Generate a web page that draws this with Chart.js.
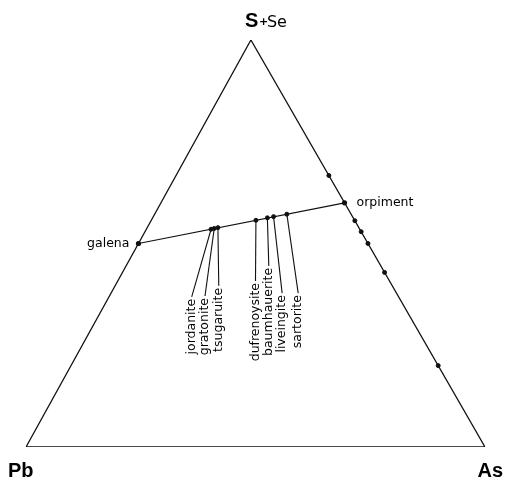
<!DOCTYPE html>
<html>
<head>
<meta charset="utf-8">
<script src="https://cdn.jsdelivr.net/npm/chart.js@4"></script>
<style>
  html, body { margin: 0; padding: 0; background: #fff; }
  #wrap { width: 506px; height: 478px; position: relative; }
</style>
</head>
<body>
<div id="wrap"><canvas id="ternary"></canvas></div>
<script>
// compositions as atomic fractions [Pb, As, S(+Se)]
const joinMinerals = ["jordanite", "gratonite", "tsugaruite", "dufrenoysite", "baumhauerite", "liveingite", "sartorite"]
const joinPb = [0.324, 0.316, 0.307, 0.215, 0.187, 0.172, 0.140]
const joinAs = [0.141, 0.147, 0.154, 0.228, 0.250, 0.262, 0.288]
const joinS  = [0.535, 0.537, 0.539, 0.557, 0.563, 0.566, 0.572]

const endMembers = ["galena", "orpiment"]
const endPb = [0.5, 0.0]
const endAs = [0.0, 0.4]
const endS  = [0.5, 0.6]

// As - S binary phases on the right edge
const binaryS = [0.667, 0.556, 0.529, 0.500, 0.429, 0.200]

const vertexNames = ["Pb", "As", "S"]

// label columns (in the same x/y units as the chart, label end = top of the text)
const labelX   = [0.361, 0.390, 0.420, 0.500, 0.529, 0.558, 0.593]
const labelTop = [0.369, 0.371, 0.396, 0.408, 0.445, 0.378, 0.378]

// the drawn triangle is not quite equilateral: the apex sits a little left of centre
const APEX_X = 0.49

// ternary -> cartesian: Pb at (0,0), As at (1,0), S at (APEX_X,1)
function tern(pb, as, s) {
  const t = pb + as + s
  return { x: (as + s * APEX_X) / t, y: s / t }
}

const outline = [tern(1, 0, 0), tern(0, 1, 0), tern(0, 0, 1), tern(1, 0, 0)]
const joinLine = endPb.map((p, i) => tern(p, endAs[i], endS[i]))
const joinPts = joinMinerals.map((m, i) => tern(joinPb[i], joinAs[i], joinS[i]))
const binaryPts = binaryS.map(s => tern(0, 1 - s, s))

const labelPlugin = {
  id: "ternaryLabels",
  afterDatasetsDraw(chart) {
    const { ctx, scales: { x, y } } = chart
    ctx.save()
    ctx.fillStyle = "#000"
    ctx.strokeStyle = "#111"
    ctx.lineWidth = 1.1

    // leader lines + rotated mineral names
    ctx.font = "12.5px 'DejaVu Sans'"
    joinMinerals.forEach((name, i) => {
      const lx = x.getPixelForValue(labelX[i])
      const ly = y.getPixelForValue(labelTop[i])
      const px = x.getPixelForValue(joinPts[i].x)
      const py = y.getPixelForValue(joinPts[i].y)
      ctx.beginPath()
      ctx.moveTo(px, py)
      ctx.lineTo(lx, ly)
      ctx.stroke()
      ctx.save()
      ctx.translate(lx, ly + 2)
      ctx.rotate(-Math.PI / 2)
      ctx.textAlign = "right"
      ctx.textBaseline = "middle"
      ctx.fillText(name, 0, 0)
      ctx.restore()
    })

    // end members
    ctx.textBaseline = "middle"
    const g = joinLine[0], o = joinLine[1]
    ctx.textAlign = "right"
    ctx.fillText(endMembers[0], x.getPixelForValue(g.x) - 9, y.getPixelForValue(g.y))
    ctx.textAlign = "left"
    ctx.fillText(endMembers[1], x.getPixelForValue(o.x) + 12, y.getPixelForValue(o.y))

    // vertices
    ctx.textBaseline = "alphabetic"
    ctx.font = "bold 20px 'Liberation Sans'"
    const pb = outline[0], as = outline[1], s = outline[2]
    ctx.textAlign = "left"
    ctx.fillText(vertexNames[0], x.getPixelForValue(pb.x) - 18, y.getPixelForValue(pb.y) + 30)
    ctx.textAlign = "right"
    ctx.fillText(vertexNames[1], x.getPixelForValue(as.x) + 18, y.getPixelForValue(as.y) + 30)
    const sx = x.getPixelForValue(s.x) - 6, sy = y.getPixelForValue(s.y) - 13
    ctx.textAlign = "left"
    ctx.fillText(vertexNames[2], sx, sy)
    ctx.font = "bold 11px 'DejaVu Sans'"
    ctx.fillText("+", sx + 14, sy - 2)
    ctx.font = "16px 'DejaVu Sans'"
    ctx.fillText("Se", sx + 22, sy)
    ctx.restore()
  }
}

new Chart(document.getElementById("ternary"), {
  type: "scatter",
  data: {
    datasets: [
      { data: outline, showLine: true, borderColor: "#111", borderWidth: 1.3, pointRadius: 0 },
      { data: joinLine, showLine: true, borderColor: "#111", borderWidth: 1.2, pointRadius: 2, backgroundColor: "#111", borderJoinStyle: "round" },
      { data: joinPts, pointRadius: 2, backgroundColor: "#111", borderColor: "#111" },
      { data: binaryPts, pointRadius: 2, backgroundColor: "#111", borderColor: "#111" },
    ],
  },
  options: {
    responsive: true,
    maintainAspectRatio: false,
    animation: false,
    layout: {
      autoPadding: false,
      padding: { left: 26, right: 21, top: 40, bottom: 31 }
    },
    scales: {
      x: { type: "linear", min: 0, max: 1, display: false },
      y: { type: "linear", min: 0, max: 1, display: false },
    },
    plugins: {
      legend: { display: false },
      tooltip: { enabled: false },
    },
    elements: { line: { tension: 0 } },
  },
  plugins: [labelPlugin],
})
</script>
</body>
</html>
